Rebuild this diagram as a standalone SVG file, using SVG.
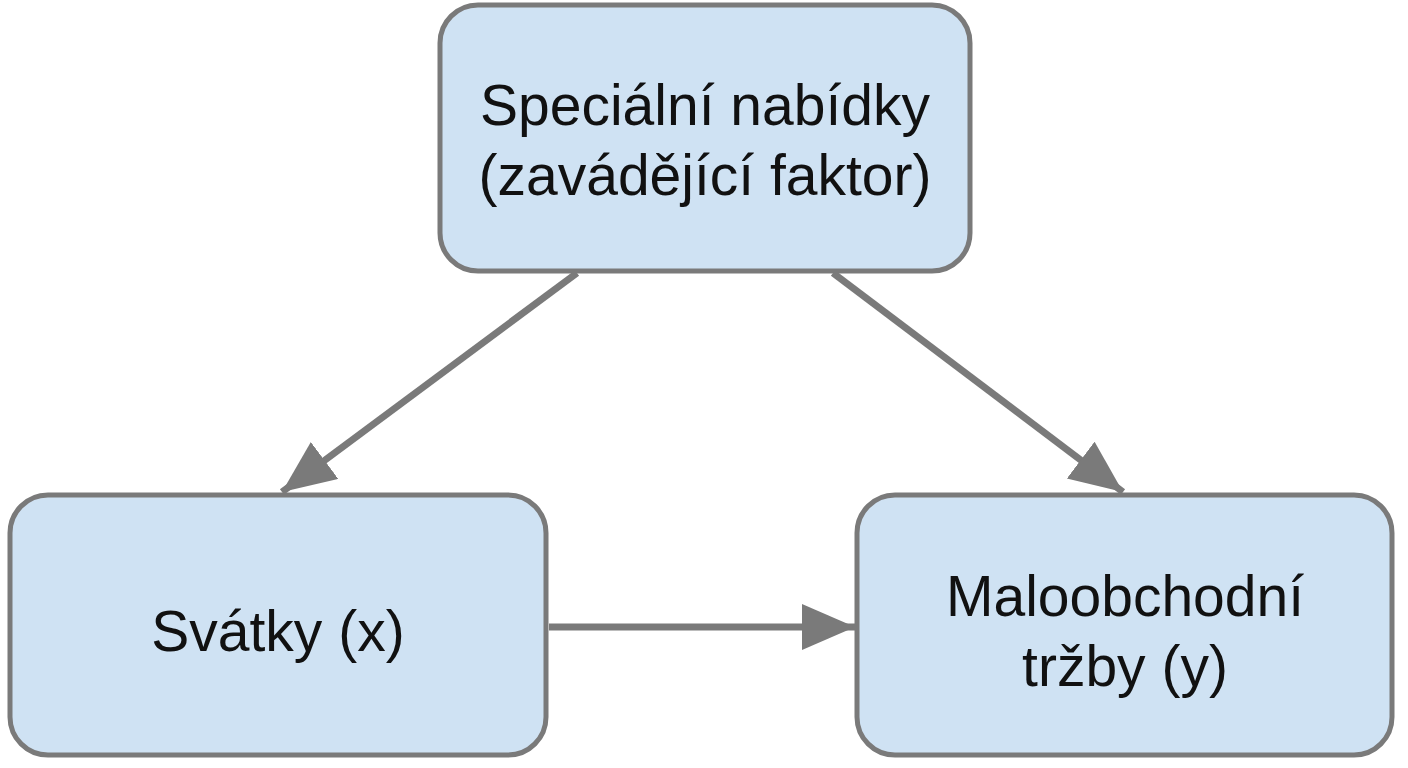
<svg xmlns="http://www.w3.org/2000/svg" width="1408" height="768" viewBox="0 0 1408 768">
<defs>
<style>
.box{fill:#cfe2f3;stroke:#7a7a7a;stroke-width:5}
.lbl{font-family:"Liberation Sans",Arial,sans-serif;font-size:57px;fill:#111;text-anchor:middle}
.edge{stroke:#7a7a7a;stroke-width:7;fill:none}
</style>
<marker id="ah" markerUnits="userSpaceOnUse" markerWidth="56" markerHeight="48" refX="53" refY="23" orient="auto" viewBox="0 0 56 48">
<path d="M0,0 L53,23 L0,46 z" fill="#7a7a7a"/>
</marker>
</defs>
<g id="connectors">
<line class="edge" x1="577" y1="273" x2="282" y2="492" marker-end="url(#ah)"/>
<line class="edge" x1="833" y1="273" x2="1123" y2="492" marker-end="url(#ah)"/>
<line class="edge" x1="549" y1="627" x2="855" y2="627" marker-end="url(#ah)"/>
</g>
<g id="node-top">
<rect class="box" x="440" y="5" width="530" height="266" rx="38"/>
<text class="lbl" x="705" y="125">Speciální nabídky</text>
<text class="lbl" x="705" y="195">(zavádějící faktor)</text>
</g>
<g id="node-left">
<rect class="box" x="10" y="495" width="536" height="260" rx="38"/>
<text class="lbl" x="278" y="651">Svátky (x)</text>
</g>
<g id="node-right">
<rect class="box" x="857" y="495" width="535" height="260" rx="38"/>
<text class="lbl" x="1125" y="616">Maloobchodní</text>
<text class="lbl" x="1125" y="686">tržby (y)</text>
</g>
</svg>
